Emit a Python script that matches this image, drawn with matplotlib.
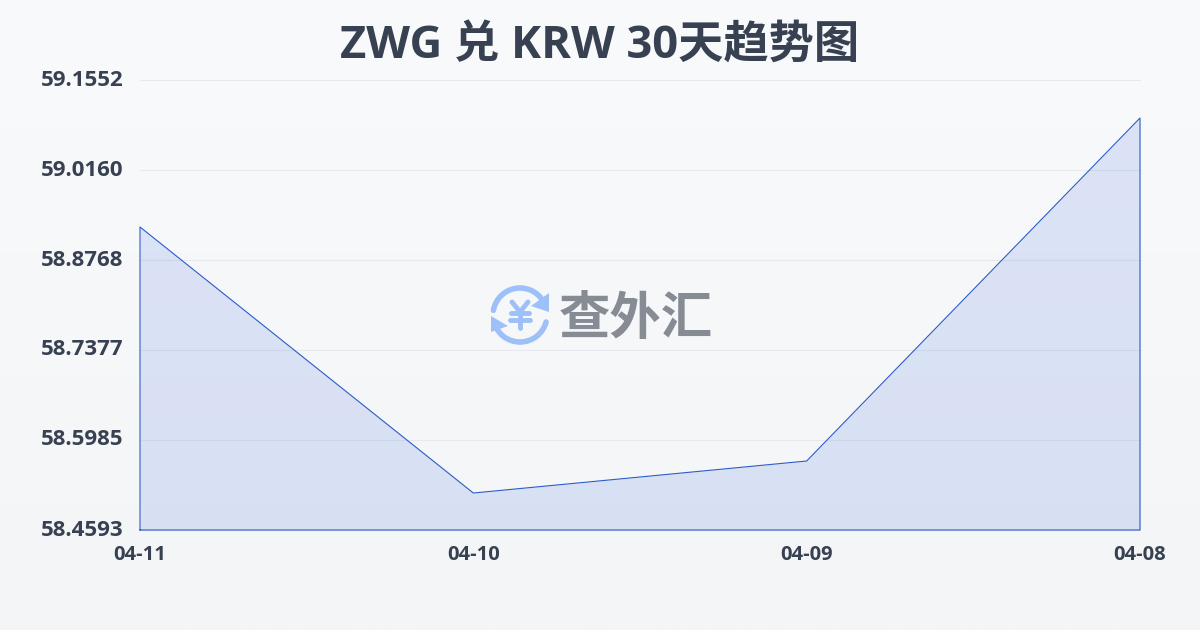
import matplotlib
matplotlib.use('Agg')
import matplotlib.pyplot as plt
from matplotlib.patches import Arc, Polygon
import numpy as np

plt.rcParams['font.family'] = ['Open Sans', 'Noto Sans CJK SC', 'DejaVu Sans']

dates = ['04-11', '04-10', '04-09', '04-08']
rates = [58.9279, 58.5165, 58.5660, 59.0964]
y_ticks = [58.4593, 58.5985, 58.7377, 58.8768, 59.0160, 59.1552]
y_labels = ['58.4593', '58.5985', '58.7377', '58.8768', '59.0160', '59.1552']
title = 'ZWG 兑 KRW 30天趋势图'
watermark = '查外汇'

text_color = '#374151'
line_color = '#2b5cc8'
logo_color = '#9dc0f8'

fig = plt.figure(figsize=(12, 6.3), dpi=100)

# page background, light vertical gradient
bg = fig.add_axes([0, 0, 1, 1], zorder=0)
bg.imshow(np.linspace(0, 1, 256).reshape(-1, 1), aspect='auto', extent=(0, 1, 0, 1),
          cmap=matplotlib.colors.LinearSegmentedColormap.from_list('bg', ['#f9fafc', '#f3f5f7']))
bg.axis('off')

ax = fig.add_axes([140 / 1200, 100 / 630, 1000 / 1200, 450 / 630], zorder=1)
ax.patch.set_alpha(0)
x = np.arange(len(dates))
ax.set_xlim(0, len(dates) - 1)
ax.set_ylim(y_ticks[0], y_ticks[-1])

ax.grid(axis='y', color='#e7e9ee', linewidth=0.8, zorder=1)
for line in ax.get_ygridlines():
    line.set_clip_on(False)
ax.fill_between(x, rates, y_ticks[0], color='#2557d6', alpha=0.135, linewidth=0, zorder=2)
ax.plot([x[0], *x, x[-1], x[0]], [y_ticks[0], *rates, y_ticks[0], y_ticks[0]],
        color=line_color, linewidth=0.8, zorder=3, clip_on=False)

ax.set_xticks(x, dates)
ax.set_yticks(y_ticks, y_labels)
ax.tick_params(axis='both', length=0)
ax.tick_params(axis='x', labelsize=14.5, pad=10.5, labelcolor=text_color)
ax.tick_params(axis='y', labelsize=16, pad=12, labelcolor=text_color)
for lab in ax.get_xticklabels() + ax.get_yticklabels():
    lab.set_fontweight('bold')
for lab in ax.get_yticklabels():
    lab.set_va('center')
for s in ax.spines.values():
    s.set_visible(False)

fig.text(600 / 1200, 1 - 47 / 630, title, ha='center', va='center', fontsize=32.6,
         fontweight='bold', color=text_color)

# watermark logo, pixel coordinates
wm = fig.add_axes([0, 0, 1, 1], zorder=3)
wm.set_xlim(0, 1200)
wm.set_ylim(630, 0)
wm.axis('off')
wm.patch.set_alpha(0)
wm.add_patch(Arc((520, 315), 54, 54, theta1=190, theta2=325, color=logo_color, lw=4, capstyle='round'))
wm.add_patch(Arc((520, 315), 54, 54, theta1=15, theta2=165, color=logo_color, lw=4, capstyle='round'))
wm.add_patch(Polygon([(549, 293), (549, 312), (531, 306)], color=logo_color, lw=0))
wm.add_patch(Polygon([(491, 316), (491, 332), (508, 326)], color=logo_color, lw=0))
for xs, ys in [([512, 520, 528], [302, 312, 302]), ([511, 529], [313, 313]),
               ([510, 530], [320, 320]), ([520, 520], [312, 328])]:
    wm.plot(xs, ys, color=logo_color, lw=3.5, solid_capstyle='round', solid_joinstyle='round')
wm.text(636, 321, watermark, ha='center', va='center', fontsize=37, fontweight='bold', color='#868b94')

fig.savefig('out.png', dpi=100)
